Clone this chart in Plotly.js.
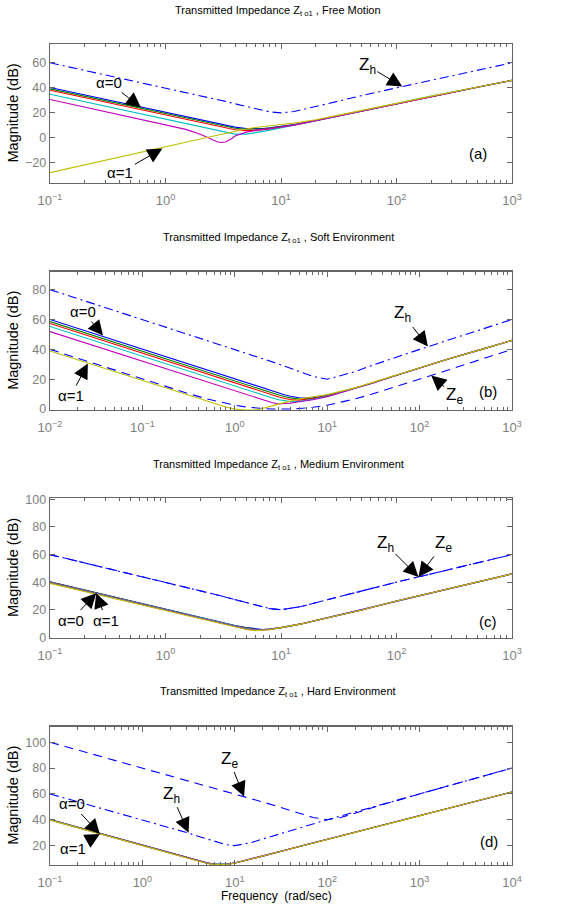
<!DOCTYPE html>
<html>
<head>
<meta charset="utf-8">
<script src="https://cdn.plot.ly/plotly-3.0.1.min.js"></script>
<style>html,body{margin:0;padding:0;background:#fff;}#chart{width:586px;height:913px;}</style>
</head>
<body>
<div id="chart"></div>
<script>
// ---------- DATA ----------
// Panel (a) Free Motion
const aFreq    = [0.1, 0.2, 0.5, 1, 1.5, 2, 2.5, 2.8, 3, 3.3, 3.7, 4, 5, 6, 7, 8, 10, 13, 20, 30, 50, 100, 200, 500, 1000];
const aZh      = [60.0, 54.0, 46.0, 40.0, 36.4, 33.8, 31.8, 30.7, 30.1, 29.2, 28.0, 27.3, 25.1, 23.3, 21.9, 20.8, 20.0, 21.1, 25.1, 29.1, 33.8, 40.0, 46.0, 54.0, 60.0];
const aBlue    = [40.3, 34.3, 26.3, 20.3, 16.8, 14.3, 12.4, 11.4, 10.9, 10.1, 9.2, 8.6, 7.5, 7.3, 7.5, 8.0, 9.0, 10.6, 13.9, 17.3, 21.6, 27.5, 33.4, 40.5, 46.0];
const aGreen   = [39.2, 33.2, 25.2, 19.2, 15.7, 13.2, 11.3, 10.3, 9.8, 9.1, 8.2, 7.7, 6.9, 6.9, 7.2, 7.8, 8.9, 10.5, 13.9, 17.3, 21.6, 27.5, 33.4, 40.5, 46.0];
const aRed     = [38.1, 32.1, 24.1, 18.1, 14.6, 12.1, 10.2, 9.2, 8.7, 7.9, 7.0, 6.5, 5.8, 6.0, 6.6, 7.2, 8.5, 10.3, 13.8, 17.2, 21.6, 27.5, 33.4, 40.5, 46.0];
const aCyan    = [34.9, 28.9, 20.9, 14.9, 11.4, 8.9, 7.0, 6.0, 5.4, 4.6, 3.5, 3.0, 3.0, 4.0, 5.2, 6.2, 7.9, 9.9, 13.7, 17.2, 21.6, 27.5, 33.4, 40.5, 46.0];
const aMagenta = [30.7, 24.7, 16.7, 10.6, 6.8, 3.0, -1.2, -3.0, -3.7, -3.2, -0.9, 1.5, 4.6, 6.0, 6.8, 7.4, 8.5, 10.2, 13.8, 17.2, 21.6, 27.5, 33.4, 40.5, 46.0];
const aYellow  = [-27.7, -21.6, -13.6, -7.4, -3.7, -0.8, 1.2, 2.2, 2.8, 3.6, 4.6, 5.3, 7.1, 8.3, 9.2, 9.8, 10.7, 11.8, 14.5, 17.8, 21.8, 27.6, 33.4, 40.5, 46.0];

// Panel (b) Soft Environment
const bFreq    = [0.01, 0.03, 0.1, 0.3, 0.5, 0.8, 1, 1.3, 1.7, 2, 2.5, 3, 3.5, 4, 5, 6, 7, 10, 20, 30, 50, 100, 200, 500, 1000];
const bZh      = [80.0, 70.5, 60.0, 50.5, 46.0, 41.9, 40.0, 37.6, 35.3, 33.8, 31.8, 30.1, 28.6, 27.3, 25.1, 23.3, 21.9, 20.0, 25.1, 29.1, 33.8, 40.0, 46.0, 54.0, 60.0];
const bZe      = [40.0, 30.5, 20.0, 10.8, 6.8, 3.7, 2.6, 1.5, 0.7, 0.4, 0.1, 0.0, 0.0, 0.1, 0.4, 0.7, 1.2, 2.6, 6.8, 9.9, 14.1, 20.0, 26.0, 34.0, 40.0];
const bBlue    = [60.0, 50.5, 40.0, 30.5, 26.0, 21.9, 20.0, 17.7, 15.4, 14.0, 12.1, 10.7, 9.5, 8.6, 7.6, 7.4, 7.6, 9.0, 13.9, 17.3, 21.6, 27.5, 33.4, 40.5, 46.0];
const bGreen   = [58.6, 49.1, 38.6, 29.1, 24.6, 20.5, 18.6, 16.3, 14.0, 12.6, 10.8, 9.4, 8.3, 7.5, 6.8, 6.9, 7.3, 8.9, 13.9, 17.3, 21.6, 27.5, 33.4, 40.5, 46.0];
const bRed     = [57.3, 47.8, 37.3, 27.8, 23.3, 19.2, 17.3, 15.0, 12.7, 11.3, 9.5, 8.1, 7.1, 6.4, 6.0, 6.4, 7.0, 8.7, 13.8, 17.2, 21.6, 27.5, 33.4, 40.5, 46.0];
const bCyan    = [55.3, 45.8, 35.3, 25.8, 21.3, 17.2, 15.3, 13.0, 10.7, 9.3, 7.6, 6.3, 5.4, 5.0, 5.2, 5.9, 6.6, 8.5, 13.8, 17.2, 21.6, 27.5, 33.4, 40.5, 46.0];
const bMagenta = [51.9, 42.4, 31.9, 22.4, 17.9, 13.8, 11.9, 9.6, 7.3, 6.0, 4.4, 3.4, 3.5, 4.0, 4.9, 5.6, 6.3, 8.3, 13.7, 17.2, 21.6, 27.5, 33.4, 40.5, 46.0];
const bYellow  = [38.9, 29.4, 18.9, 9.4, 5.0, 1.4, 0.0, -0.7, -0.6, 0.3, 2.0, 3.5, 4.6, 5.5, 6.8, 7.6, 8.3, 9.8, 14.2, 17.6, 21.8, 27.6, 33.4, 40.5, 46.0];

// Panel (c) Medium Environment
const cFreq    = [0.1, 0.3, 1, 2, 3, 4, 5, 6, 7, 8, 10, 15, 20, 50, 100, 200, 500, 1000];
const cZh      = [60.0, 50.5, 40.0, 33.8, 30.1, 27.3, 25.1, 23.3, 21.9, 20.8, 20.0, 22.3, 25.1, 33.8, 40.0, 46.0, 54.0, 60.0];
const cZe      = [60.0, 50.5, 40.0, 33.8, 30.1, 27.3, 25.1, 23.3, 21.9, 20.8, 20.0, 22.3, 25.1, 33.8, 40.0, 46.0, 54.0, 60.0];
const cBlue    = [40.3, 30.8, 20.3, 14.3, 10.9, 8.6, 7.0, 6.0, 5.7, 5.9, 7.0, 9.7, 12.2, 19.8, 26.3, 32.3, 40.2, 46.0];
const cGreen   = [40.1, 30.6, 20.1, 14.1, 10.7, 8.4, 6.8, 5.8, 5.6, 5.9, 7.0, 9.7, 12.2, 19.8, 26.3, 32.3, 40.2, 46.0];
const cRed     = [39.9, 30.4, 19.9, 13.9, 10.5, 8.2, 6.6, 5.6, 5.5, 5.8, 7.0, 9.7, 12.2, 19.8, 26.3, 32.3, 40.2, 46.0];
const cCyan    = [39.7, 30.2, 19.7, 13.7, 10.3, 7.9, 6.3, 5.4, 5.3, 5.7, 7.0, 9.7, 12.2, 19.8, 26.3, 32.3, 40.2, 46.0];
const cMagenta = [39.4, 29.9, 19.4, 13.4, 10.0, 7.6, 6.0, 5.1, 5.1, 5.6, 7.0, 9.7, 12.2, 19.8, 26.3, 32.3, 40.2, 46.0];
const cYellow  = [39.1, 29.6, 19.1, 13.1, 9.7, 7.3, 5.7, 4.8, 4.9, 5.5, 7.0, 9.7, 12.2, 19.8, 26.3, 32.3, 40.2, 46.0];

// Panel (d) Hard Environment
const dFreq    = [0.1, 0.3, 1, 2, 3, 4, 5, 6, 7, 8, 10, 15, 20, 50, 70, 100, 140, 200, 300, 1000, 3000, 10000];
const dZh      = [60.0, 50.5, 40.0, 33.8, 30.1, 27.3, 25.1, 23.3, 21.9, 20.8, 20.0, 22.3, 25.1, 33.8, 36.8, 40.0, 42.9, 46.0, 49.5, 60.0, 69.5, 80.0];
const dZe      = [100.0, 90.5, 80.0, 74.0, 70.5, 68.0, 66.0, 64.4, 63.1, 61.9, 60.0, 56.4, 53.8, 45.1, 41.8, 40.0, 41.7, 45.1, 49.1, 60.0, 69.5, 80.0];
const dBlue    = [40.2, 30.7, 20.2, 14.2, 10.7, 8.3, 6.7, 5.8, 5.5, 5.6, 6.6, 9.6, 11.8, 19.3, 22.0, 24.8, 27.5, 30.3, 33.5, 43.0, 52.0, 61.5];
const dGreen   = [40.1, 30.6, 20.1, 14.1, 10.6, 8.2, 6.6, 5.7, 5.4, 5.6, 6.6, 9.6, 11.8, 19.3, 22.0, 24.8, 27.5, 30.3, 33.5, 43.0, 52.0, 61.5];
const dRed     = [40.0, 30.5, 20.0, 14.0, 10.5, 8.1, 6.5, 5.6, 5.3, 5.5, 6.5, 9.6, 11.8, 19.3, 22.0, 24.8, 27.5, 30.3, 33.5, 43.0, 52.0, 61.5];
const dCyan    = [39.9, 30.4, 19.9, 13.9, 10.4, 8.0, 6.4, 5.5, 5.3, 5.5, 6.5, 9.6, 11.8, 19.3, 22.0, 24.8, 27.5, 30.3, 33.5, 43.0, 52.0, 61.5];
const dMagenta = [39.8, 30.3, 19.8, 13.8, 10.3, 7.9, 6.3, 5.4, 5.2, 5.4, 6.5, 9.6, 11.8, 19.3, 22.0, 24.8, 27.5, 30.3, 33.5, 43.0, 52.0, 61.5];
const dYellow  = [39.7, 30.2, 19.7, 13.7, 10.2, 7.8, 6.2, 5.3, 5.1, 5.4, 6.4, 9.6, 11.8, 19.3, 22.0, 24.8, 27.5, 30.3, 33.5, 43.0, 52.0, 61.5];

// Tick labels
const xTicksA = [0.1, 1, 10, 100, 1000];
const xTextA  = ['10<sup>−1</sup>', '10<sup>0</sup>', '10<sup>1</sup>', '10<sup>2</sup>', '10<sup>3</sup>'];
const xTicksB = [0.01, 0.1, 1, 10, 100, 1000];
const xTextB  = ['10<sup>−2</sup>', '10<sup>−1</sup>', '10<sup>0</sup>', '10<sup>1</sup>', '10<sup>2</sup>', '10<sup>3</sup>'];
const xTicksD = [0.1, 1, 10, 100, 1000, 10000];
const xTextD  = ['10<sup>−1</sup>', '10<sup>0</sup>', '10<sup>1</sup>', '10<sup>2</sup>', '10<sup>3</sup>', '10<sup>4</sup>'];
const yTicksA = [-20, 0, 20, 40, 60];
const yTicksB = [0, 20, 40, 60, 80];
const yTicksC = [0, 20, 40, 60, 80, 100];
const yTicksD = [20, 40, 60, 80, 100];

const panelTitles = [
  'Transmitted Impedance Z<sub>t o1</sub> , Free Motion',
  'Transmitted Impedance Z<sub>t o1</sub> , Soft Environment',
  'Transmitted Impedance Z<sub>t o1</sub> , Medium Environment',
  'Transmitted Impedance Z<sub>t o1</sub> , Hard Environment'
];

// ---------- STYLE ----------
const colors = ['#0000ff', '#008000', '#ff0000', '#00bfbf', '#bf00bf', '#bfbf00'];
const DASHDOT = '9px,4px,2px,4px';
const DASH = '9px,6px';
const W = 1.1;

function alphaTraces(f, series, xa, ya) {
  return series.map((s, i) => ({
    x: f, y: s, xaxis: xa, yaxis: ya, type: 'scatter', mode: 'lines',
    line: {color: colors[i], width: W}, hoverinfo: 'skip'
  }));
}
function zTrace(f, y, xa, ya, dash) {
  return {x: f, y: y, xaxis: xa, yaxis: ya, type: 'scatter', mode: 'lines',
          line: {color: '#0000ff', width: W, dash: dash}, hoverinfo: 'skip'};
}

const traces = [].concat(
  alphaTraces(aFreq, [aBlue, aGreen, aRed, aCyan, aMagenta, aYellow], 'x', 'y'),
  [zTrace(aFreq, aZh, 'x', 'y', DASHDOT)],
  alphaTraces(bFreq, [bBlue, bGreen, bRed, bCyan, bMagenta, bYellow], 'x2', 'y2'),
  [zTrace(bFreq, bZh, 'x2', 'y2', DASHDOT), zTrace(bFreq, bZe, 'x2', 'y2', DASH)],
  alphaTraces(cFreq, [cBlue, cGreen, cRed, cCyan, cMagenta, cYellow], 'x3', 'y3'),
  [zTrace(cFreq, cZh, 'x3', 'y3', DASHDOT), zTrace(cFreq, cZe, 'x3', 'y3', DASH)],
  alphaTraces(dFreq, [dBlue, dGreen, dRed, dCyan, dMagenta, dYellow], 'x4', 'y4'),
  [zTrace(dFreq, dZh, 'x4', 'y4', DASHDOT), zTrace(dFreq, dZe, 'x4', 'y4', DASH)]
);

function minorTicks(lo, hi) {
  const v = [];
  for (let e = lo; e < hi; e++) for (let k = 2; k < 10; k++) v.push(k * Math.pow(10, e));
  return v;
}

const AX = '#666666';
const FONT = 'Liberation Sans, Arial, sans-serif';
const XTICKFONT = {family: FONT, size: 13, color: '#808080'};
const YTICKFONT = {family: FONT, size: 12.5, color: '#808080'};
function xAxis(anchor, lo, hi, vals, text) {
  return {
    anchor: anchor, domain: [0, 1], type: 'log', range: [lo, hi],
    tickmode: 'array', tickvals: vals, ticktext: text,
    ticks: 'inside', ticklen: 5, tickwidth: 1, tickcolor: AX,
    minor: {tickmode: 'array', tickvals: minorTicks(lo, hi), ticks: 'inside', ticklen: 3, tickwidth: 1, tickcolor: AX},
    showline: true, linecolor: AX, linewidth: 1.4, mirror: 'ticks',
    ticklabelstandoff: 5,
    showgrid: false, zeroline: false, tickfont: XTICKFONT, fixedrange: true
  };
}
function yAxis(anchor, dom, range, vals) {
  return {
    anchor: anchor, domain: dom, range: range,
    tickmode: 'array', tickvals: vals,
    ticks: 'inside', ticklen: 5, tickwidth: 1, tickcolor: AX,
    showline: true, linecolor: AX, linewidth: 1.4, mirror: 'ticks',
    showgrid: false, zeroline: false, tickfont: YTICKFONT, fixedrange: true
  };
}

const H = 913;
const domA = [1 - 183 / H, 1 - 44 / H];
const domB = [1 - 410 / H, 1 - 271.7 / H];
const domC = [1 - 637.7 / H, 1 - 498.3 / H];
const domD = [1 - 865 / H, 1 - 726.7 / H];

function arrow(xr, yr, x, y, ax, ay, text, size) {
  return {xref: xr, yref: yr, x: x, y: y, ax: ax, ay: ay, text: text,
          showarrow: true, arrowhead: 2, arrowsize: 3, arrowwidth: 1, arrowcolor: '#000',
          font: {family: FONT, size: size || 15, color: '#000'}, standoff: 0, startstandoff: 0};
}
function label(xr, yr, x, y, text) {
  return {xref: xr, yref: yr, x: x, y: y, text: text, showarrow: false,
          font: {family: FONT, size: 15, color: '#000'}};
}
function ptitle(py, text) {
  return {xref: 'paper', yref: 'paper', x: 0.494, y: 1 - py / H, xanchor: 'center', yanchor: 'middle',
          text: text, showarrow: false, font: {family: FONT, size: 11, color: '#000'}};
}
function ylab(dom) {
  return {xref: 'paper', yref: 'paper', x: (13 - 50) / 462, y: (dom[0] + dom[1]) / 2,
          xanchor: 'center', yanchor: 'middle', textangle: -90, text: 'Magnitude (dB)',
          showarrow: false, font: {family: FONT, size: 14.5, color: '#000'}};
}

const annotations = [
  ptitle(11, panelTitles[0]), ptitle(238, panelTitles[1]), ptitle(465, panelTitles[2]), ptitle(692, panelTitles[3]),
  ylab(domA), ylab(domB), ylab(domC), ylab(domD),
  {xref: 'paper', yref: 'paper', x: 0.49, y: 1 - 896 / H, xanchor: 'center', yanchor: 'middle',
   text: 'Frequency  (rad/sec)', showarrow: false, font: {family: FONT, size: 12, color: '#000'}},
  // (a)
  arrow('x', 'y', -0.213, 24.3, -32, -25, 'α=0'),
  arrow('x', 'y', -0.027, -8.5, -42, 24, 'α=1'),
  arrow('x', 'y', 2.05, 41, -35, -21, 'Z<sub>h</sub>', 17),
  label('x', 'y', 2.706, -12.5, '(a)'),
  // (b)
  arrow('x2', 'y2', -1.426, 49.3, -20, -24, 'α=0'),
  arrow('x2', 'y2', -1.59, 30.5, -17, 32, 'α=1'),
  arrow('x2', 'y2', 2.09, 42, -25, -32, 'Z<sub>h</sub>', 17),
  arrow('x2', 'y2', 2.126, 22.5, 23, 20, 'Z<sub>e</sub>', 17),
  label('x2', 'y2', 2.736, 11.9, '(b)'),
  // (c)
  arrow('x3', 'y3', -0.6, 32, -25, 27, 'α=0'),
  arrow('x3', 'y3', -0.6, 32, 10, 27, 'α=1'),
  arrow('x3', 'y3', 2.19, 43.8, -33, -33, 'Z<sub>h</sub>', 17),
  arrow('x3', 'y3', 2.19, 43.8, 25, -33, 'Z<sub>e</sub>', 17),
  label('x3', 'y3', 2.791, 11.6, '(c)'),
  // (d)
  arrow('x4', 'y4', 1.1, 58, -15, -37, 'Z<sub>e</sub>', 17),
  arrow('x4', 'y4', 0.5, 30, -17, -38, 'Z<sub>h</sub>', 17),
  arrow('x4', 'y4', -0.46, 29, -28, -30, 'α=0'),
  arrow('x4', 'y4', -0.46, 29, -27, 15, 'α=1'),
  label('x4', 'y4', 3.755, 23.1, '(d)')
];

const layout = {
  width: 586, height: 913,
  margin: {l: 50, r: 74, t: 0, b: 0, pad: 0},
  paper_bgcolor: '#ffffff', plot_bgcolor: '#ffffff',
  showlegend: false,
  font: {family: FONT, size: 12, color: '#000'},
  xaxis:  xAxis('y',  -1, 3, xTicksA, xTextA),
  yaxis:  yAxis('x',  domA, [-36, 75], yTicksA),
  xaxis2: xAxis('y2', -2, 3, xTicksB, xTextB),
  yaxis2: yAxis('x2', domB, [-0.6, 92], yTicksB),
  xaxis3: xAxis('y3', -1, 3, xTicksA, xTextA),
  yaxis3: yAxis('x3', domC, [-0.3, 100.8], yTicksC),
  xaxis4: xAxis('y4', -1, 4, xTicksD, xTextD),
  yaxis4: yAxis('x4', domD, [5, 112], yTicksD),
  annotations: annotations
};

Plotly.newPlot('chart', traces, layout, {displayModeBar: false, staticPlot: true});
</script>
</body>
</html>
